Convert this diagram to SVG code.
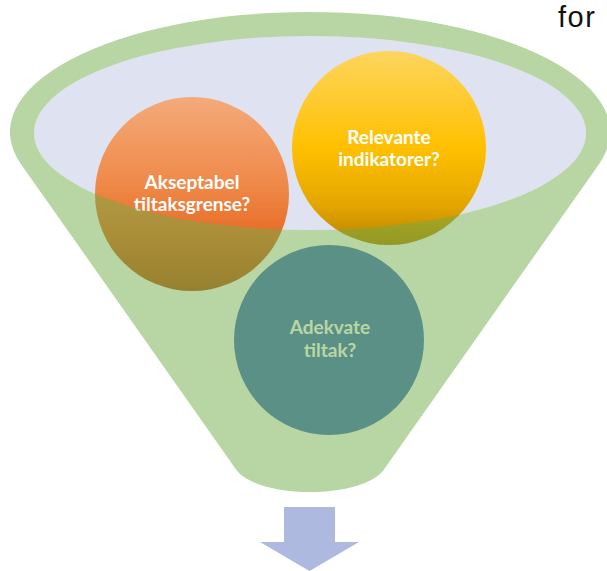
<svg xmlns="http://www.w3.org/2000/svg" width="607" height="571" viewBox="0 0 607 571">
  <style>
    .lbl { font-family: Lato, "Liberation Sans", Arial, sans-serif; font-weight: bold; font-size: 19px; fill: #ffffff; text-anchor: middle; }
    .cap { font-family: "Liberation Sans", Arial, sans-serif; font-size: 29px; letter-spacing: 1.5px; fill: #111111; }
  </style>
  <defs>
    <linearGradient id="gOrange" x1="0" y1="0" x2="0" y2="1">
      <stop offset="0" stop-color="#f4aa7a"/>
      <stop offset="0.45" stop-color="#ef8949"/>
      <stop offset="0.7" stop-color="#e86e28"/>
      <stop offset="1" stop-color="#bd5416"/>
    </linearGradient>
    <linearGradient id="gYellow" x1="0" y1="0" x2="0" y2="1">
      <stop offset="0" stop-color="#fdd55e"/>
      <stop offset="0.5" stop-color="#ffc000"/>
      <stop offset="0.8" stop-color="#e3a500"/>
      <stop offset="1" stop-color="#b88300"/>
    </linearGradient>
  </defs>

  <g id="funnel-back">
    <ellipse cx="310" cy="133" rx="276" ry="97" fill="#dfe2f1"/>
  </g>

  <g id="node-akseptabel">
    <circle cx="192" cy="194" r="97" fill="url(#gOrange)"/>
    <text class="lbl" x="192" y="189">Akseptabel</text>
    <text class="lbl" x="192" y="211">tiltaksgrense?</text>
  </g>

  <g id="node-relevante">
    <circle cx="389" cy="148" r="97" fill="url(#gYellow)"/>
    <text class="lbl" x="389" y="144">Relevante</text>
    <text class="lbl" x="389" y="166">indikatorer?</text>
  </g>

  <g id="node-adekvate">
    <circle cx="329" cy="340" r="95" fill="#4472c4"/>
    <text class="lbl" x="330" y="334">Adekvate</text>
    <text class="lbl" x="330" y="357">tiltak?</text>
  </g>

  <g id="funnel-front">
    <path fill="#70ad47" fill-opacity="0.5" fill-rule="evenodd"
      d="M 21.2 164.4 A 300 120 0 1 1 598.8 164.4 L 385 468 C 365 500 255 500 235 468 Z
         M 34 133 A 276 97 0 1 0 586 133 A 276 97 0 1 0 34 133 Z"/>
  </g>

  <g id="connectors">
    <polygon points="284,507 335,507 335,542 359,542 309.5,571 260,542 284,542" fill="#adb9df"/>
  </g>

  <g id="caption">
    <text class="cap" x="558" y="27">for</text>
  </g>
</svg>
